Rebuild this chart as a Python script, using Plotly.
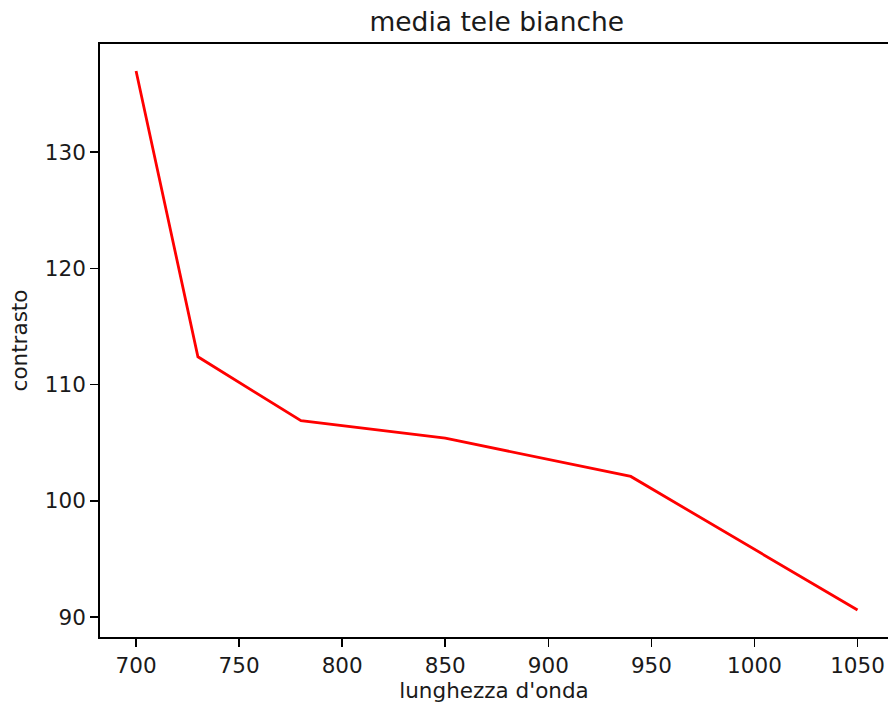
import plotly.graph_objects as go

wavelengths = [700, 730, 780, 850, 940, 1050]
contrast = [137.0, 112.4, 106.9, 105.4, 102.1, 90.6]

x_ticks = [700, 750, 800, 850, 900, 950, 1000, 1050]
y_ticks = [90, 100, 110, 120, 130]

FONT = "DejaVu Sans"

fig = go.Figure()
fig.add_trace(go.Scatter(
    x=wavelengths, y=contrast, mode="lines",
    line=dict(color="red", width=2.8),
    showlegend=False, hoverinfo="skip",
))

axis_common = dict(
    showgrid=False, zeroline=False, automargin=False,
    showline=True, linecolor="black", linewidth=1.8,
    ticks="outside", ticklen=8, tickwidth=1.6, tickcolor="black",
    tickfont=dict(family=FONT, size=21.5, color="#1a1a1a"),
)

fig.update_layout(
    width=888, height=704,
    margin=dict(l=100, r=0, t=44, b=67),
    paper_bgcolor="white", plot_bgcolor="white",
    title=dict(text="media tele bianche", x=0.5 * (100 + 893.6) / 888, xanchor="center",
               y=1 - 22 / 704, yanchor="middle",
               font=dict(family=FONT, size=26.5, color="#1a1a1a")),
    xaxis=dict(range=[682.5, 682.5 + 788 / 2.0613], tickvals=x_ticks,
               ticktext=[str(v) for v in x_ticks], mirror=True,
               title=dict(text="lunghezza d'onda", standoff=6,
                          font=dict(family=FONT, size=21.5, color="#1a1a1a")),
               **axis_common),
    yaxis=dict(range=[88.28, 139.32], tickvals=y_ticks,
               ticktext=[str(v) for v in y_ticks], mirror=False,
               title=dict(text="contrasto", standoff=11,
                          font=dict(family=FONT, size=21.5, color="#1a1a1a")),
               **axis_common),
)

fig.write_html("out.html",
               config={"displayModeBar": False, "staticPlot": True},
               post_script="document.body.style.margin='0';document.body.style.overflow='hidden';")
